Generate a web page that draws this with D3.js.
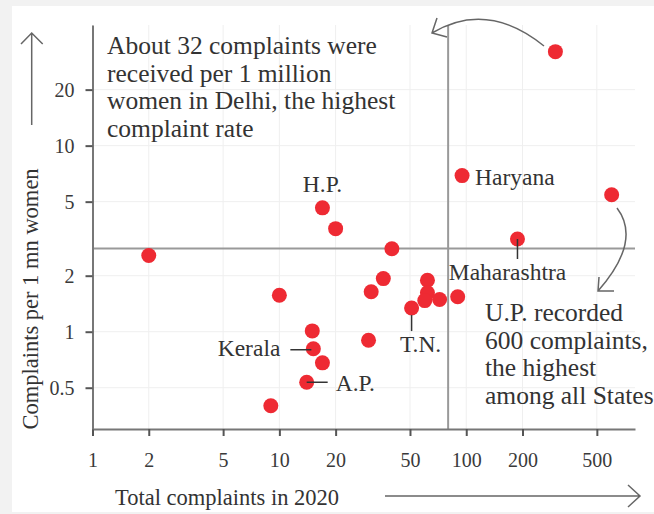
<!DOCTYPE html>
<html>
<head>
<meta charset="utf-8">
<script src="https://cdn.jsdelivr.net/npm/d3@7"></script>
<style>
  body { margin: 0; background: #f2f2f2; }
  svg { display: block; font-family: "Liberation Serif", "Times New Roman", serif; }
</style>
</head>
<body>
<div id="container"></div>
<script>
/* DATA */
// total complaints in 2020 vs complaints per 1 mn women, one entry per State
const states = ["Delhi", "Haryana", "U.P.", "Maharashtra", "H.P.", "", "", "", "", "", "", "",
  "", "", "", "", "T.N.", "", "", "Kerala", "", "A.P.", ""]
const totals = [300, 95, 600, 188, 17, 20, 40, 2, 10, 36, 31, 62,
  62, 60, 72, 90, 51, 30, 15, 15.2, 17, 14, 9]
const rates = [32, 6.9, 5.45, 3.15, 4.63, 3.58, 2.79, 2.57, 1.57, 1.93, 1.64, 1.89,
  1.62, 1.47, 1.49, 1.54, 1.34, 0.9, 1.01, 0.81, 0.68, 0.535, 0.4]

// national reference lines
const avgTotal = 80
const avgRate = 2.8

const xTicks = [1, 2, 5, 10, 20, 50, 100, 200, 500]
const yTicks = [0.5, 1, 2, 5, 10, 20]

const noteDelhi = ["About 32 complaints were", "received per 1 million",
  "women in Delhi, the highest", "complaint rate"]
const noteUP = ["U.P. recorded", "600 complaints,", "the highest", "among all States"]

/* CONSTANTS */
const width = 654, height = 514
const margin = {top: 25, right: 19, bottom: 85, left: 92.5}

const data = states.map((s, i) => ({state: s, total: totals[i], rate: rates[i]}))

const svg = d3.select("#container")
  .append("svg")
  .attr("width", width)
  .attr("height", height)

// white card
svg.append("rect")
  .attr("x", 12).attr("y", 6)
  .attr("width", width - 12).attr("height", 506)
  .attr("fill", "#fff")

/* SCALES */
const xScale = d3.scaleLog()
  .domain([1, 800])
  .range([margin.left, width - margin.right])

const yScale = d3.scaleLog()
  .domain([0.3, 44.5])
  .range([height - margin.bottom, margin.top])

const x0 = xScale.range()[0], x1 = xScale.range()[1]
const yb = yScale.range()[0], yt = yScale.range()[1]

// GRID
svg.append("g").selectAll("line")
  .data(xTicks)
  .join("line")
  .attr("x1", d => xScale(d)).attr("x2", d => xScale(d))
  .attr("y1", yt).attr("y2", yb)
  .attr("stroke", "#efefef")

svg.append("g").selectAll("line")
  .data(yTicks)
  .join("line")
  .attr("x1", x0).attr("x2", x1)
  .attr("y1", d => yScale(d)).attr("y2", d => yScale(d))
  .attr("stroke", "#efefef")

// REFERENCE LINES
svg.append("line")
  .attr("x1", x0).attr("x2", x1)
  .attr("y1", yScale(avgRate)).attr("y2", yScale(avgRate))
  .attr("stroke", "#999").attr("stroke-width", 2)

svg.append("line")
  .attr("x1", xScale(avgTotal)).attr("x2", xScale(avgTotal))
  .attr("y1", yt).attr("y2", yb)
  .attr("stroke", "#999").attr("stroke-width", 2)

// AXES
const xAxis = d3.axisBottom(xScale)
  .tickValues(xTicks)
  .tickFormat(d3.format("~g"))
  .tickSize(7).tickSizeOuter(0).tickPadding(17)

const yAxis = d3.axisLeft(yScale)
  .tickValues(yTicks)
  .tickFormat(d3.format("~g"))
  .tickSize(7).tickSizeOuter(0).tickPadding(11)

const gx = svg.append("g")
  .attr("transform", `translate(0,${yb})`)
  .call(xAxis)

const gy = svg.append("g")
  .attr("transform", `translate(${x0},0)`)
  .call(yAxis)

;[gx, gy].forEach(g => {
  g.attr("font-family", null).attr("font-size", 20)
  g.select(".domain").attr("stroke", "#777").attr("stroke-width", 2)
  g.selectAll(".tick line").attr("stroke", "#555").attr("stroke-width", 2)
  g.selectAll(".tick text").attr("fill", "#3a3a3a")
})

// axis titles
svg.append("text")
  .attr("x", 227).attr("y", 505)
  .attr("text-anchor", "middle")
  .attr("font-size", 22.5)
  .attr("fill", "#333")
  .text("Total complaints in 2020")

svg.append("text")
  .attr("transform", "translate(38,299) rotate(-90)")
  .attr("text-anchor", "middle")
  .attr("font-size", 22.5)
  .attr("fill", "#333")
  .text("Complaints per 1 mn women")

// axis arrows
svg.append("path")
  .attr("d", "M31.7,125V33M21,44L31.7,33L42.7,44")
  .attr("fill", "none").attr("stroke", "#666").attr("stroke-width", 1.5)

svg.append("path")
  .attr("d", "M385,496H640M628,485L640,496L628,507")
  .attr("fill", "none").attr("stroke", "#666").attr("stroke-width", 1.5)

// DOTS
svg.append("g").selectAll("circle")
  .data(data)
  .join("circle")
  .attr("cx", d => xScale(d.total))
  .attr("cy", d => yScale(d.rate))
  .attr("r", 7.5)
  .attr("fill", "#ee2a33")

// LABELS (placement relative to the dot)
const labelStyle = {
  "Haryana":     {dx: 13, dy: 9, anchor: "start"},
  "H.P.":        {dx: 0, dy: -16, anchor: "middle"},
  "Maharashtra": {dx: -10, dy: 41, anchor: "middle", lead: [0, 0, 0, 20]},
  "T.N.":        {dx: 9, dy: 44, anchor: "middle", lead: [0, 7, 0, 23]},
  "Kerala":      {dx: -33, dy: 7, anchor: "end", lead: [-23, 1, -2, 1]},
  "A.P.":        {dx: 29, dy: 9, anchor: "start", lead: [0, 0, 21, 0]}
}

const labelled = data.filter(d => labelStyle[d.state])

svg.append("g").selectAll("line")
  .data(labelled.filter(d => labelStyle[d.state].lead))
  .join("line")
  .attr("x1", d => xScale(d.total) + labelStyle[d.state].lead[0])
  .attr("y1", d => yScale(d.rate) + labelStyle[d.state].lead[1])
  .attr("x2", d => xScale(d.total) + labelStyle[d.state].lead[2])
  .attr("y2", d => yScale(d.rate) + labelStyle[d.state].lead[3])
  .attr("stroke", "#333").attr("stroke-width", 1.5)

svg.append("g").selectAll("text")
  .data(labelled)
  .join("text")
  .attr("x", d => xScale(d.total) + labelStyle[d.state].dx)
  .attr("y", d => yScale(d.rate) + labelStyle[d.state].dy)
  .attr("text-anchor", d => labelStyle[d.state].anchor)
  .attr("font-size", 23.5)
  .attr("fill", "#333")
  .text(d => d.state)

// ANNOTATIONS
function note(lines, x, y) {
  svg.append("text")
    .attr("font-size", 25.5)
    .attr("fill", "#333")
    .selectAll("tspan")
    .data(lines)
    .join("tspan")
    .attr("x", x)
    .attr("y", (d, i) => y + i * 27.6)
    .text(d => d)
}
note(noteDelhi, 107, 54)
note(noteUP, 485, 321)

// curved pointer arrows
svg.append("path")
  .attr("d", "M544,46Q487,0 432,33M437,18L432,33L447,37")
  .attr("fill", "none").attr("stroke", "#666").attr("stroke-width", 1.5)

svg.append("path")
  .attr("d", "M617,208Q642,241 598,291M599,277L598,291L614,291")
  .attr("fill", "none").attr("stroke", "#666").attr("stroke-width", 1.5)
</script>
</body>
</html>
